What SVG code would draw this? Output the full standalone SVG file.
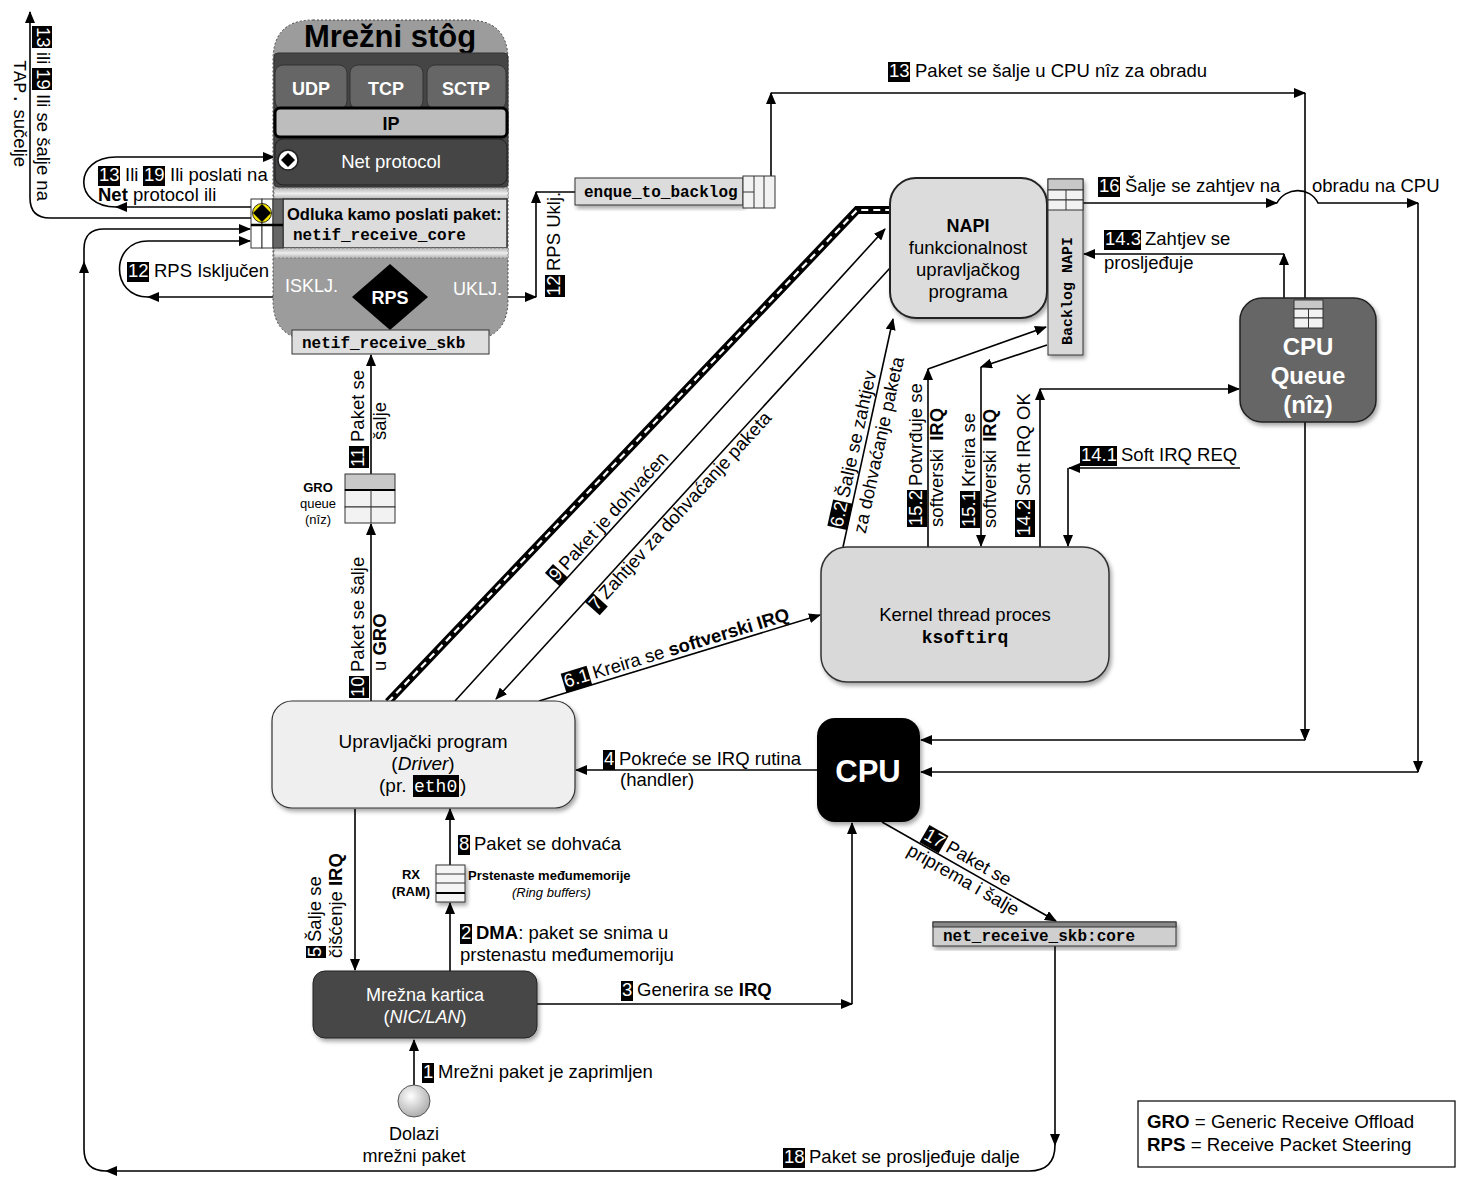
<svg xmlns="http://www.w3.org/2000/svg" width="1466" height="1189" viewBox="0 0 1466 1189">
<defs>
<marker id="ah" markerUnits="userSpaceOnUse" markerWidth="12" markerHeight="10" refX="11" refY="5" orient="auto"><path d="M0,0 L12,5 L0,10 z" fill="#000"/></marker>
<filter id="sh" x="-10%" y="-10%" width="130%" height="130%"><feDropShadow dx="2" dy="3" stdDeviation="2" flood-color="#000" flood-opacity="0.35"/></filter>
<linearGradient id="stripe" x1="0" y1="0" x2="0" y2="1"><stop offset="0" stop-color="#b5b5b5"/><stop offset="0.5" stop-color="#eeeeee"/><stop offset="1" stop-color="#b5b5b5"/></linearGradient>
<radialGradient id="ball" cx="0.4" cy="0.35" r="0.7"><stop offset="0" stop-color="#ffffff"/><stop offset="1" stop-color="#a8a8a8"/></radialGradient>
</defs>
<style>
svg{font-family:"Liberation Sans",Arial,sans-serif;font-size:18.5px}
text{fill:#000}
.m{font-family:"Liberation Mono","Courier New",monospace;font-weight:bold}
.w{fill:#fff}
.b{font-weight:bold}
.c{text-anchor:middle}
.bd{fill:#000}
.ln{fill:none;stroke:#000;stroke-width:1.6}
.a{marker-end:url(#ah)}
.q{fill:#f2f2f2;stroke:#333;stroke-width:1}
.qg{fill:#c8c8c8;stroke:#333;stroke-width:1}
</style>

<!-- connectors -->
<g id="connectors">
<path class="ln a" d="M414,1085 V1040"/>
<path class="ln a" d="M450,971 V903"/>
<path class="ln a" d="M450,865 V809"/>
<path class="ln a" d="M355,809 V970"/>
<path class="ln a" d="M537,1004 H852"/>
<path class="ln a" d="M852,1004 V823"/>
<path class="ln a" d="M817,770 H576"/>
<path class="ln a" d="M371,701 V524"/>
<path class="ln a" d="M371,474 V355"/>
<path d="M388,702 L857,210 L890,210" fill="none" stroke="#000" stroke-width="8"/>
<path d="M388,702 L857,210 L890,210" fill="none" stroke="#fff" stroke-width="2.2" stroke-dasharray="7 5"/>
<path class="ln a" d="M455,701 L885,229"/>
<path class="ln a" d="M890,268 L496,699"/>
<path class="ln a" d="M539,701 L820,615"/>
<path class="ln a" d="M843,547 L893,319"/>
<path class="ln a" d="M928,547 V369"/>
<path class="ln a" d="M928,369 L1046,327"/>
<path class="ln a" d="M1047,345 L981,367"/>
<path class="ln a" d="M981,367 V546"/>
<path class="ln a" d="M1040,547 V389"/>
<path class="ln a" d="M1040,389 H1239"/>
<path class="ln a" d="M1240,468 H1069"/>
<path class="ln a" d="M1068,468 V546"/>
<path class="ln a" d="M1284,298 V254"/>
<path class="ln a" d="M1284,254 H1084"/>
<path class="ln a" d="M1083,203 H1277"/>
<path class="ln a" d="M1277,203 C1285,187 1310,186 1318,203 H1418"/>
<path class="ln a" d="M1418,203 V772"/>
<path class="ln a" d="M1418,772 H921"/>
<path class="ln a" d="M771,176 V93"/>
<path class="ln a" d="M771,93 H1305"/>
<path class="ln a" d="M1305,93 V740"/>
<path class="ln a" d="M1305,740 H921"/>
<path class="ln a" d="M882,822 L1056,921"/>
<path class="ln a" d="M1055,946 V1145"/>
<path class="ln a" d="M1055,1145 Q1055,1171 1029,1171 H106"/>
<path class="ln a" d="M106,1171 Q84,1171 84,1149 V262"/>
<path class="ln a" d="M84,262 V249 Q84,229 104,229 H250"/>
<path class="ln a" d="M428,297 H536"/>
<path class="ln a" d="M536,297 V192"/>
<path class="ln" d="M536,192 H575"/>
<path class="ln a" d="M352,297 H148"/>
<path class="ln a" d="M148,297 C110,297 110,241 148,241 H250"/>
<path class="ln a" d="M251,207 H116"/>
<path class="ln a" d="M116,207 C73,207 73,157 116,157 H274"/>
<path class="ln a" d="M251,218 H50 Q30,218 30,198 V12"/>

<!-- labels -->
<g transform="translate(37,26) rotate(90)">
<rect class="bd" x="0" y="-15" width="22" height="20"/><text class="w" x="1" y="0">13</text>
<text x="26" y="0">ili</text>
<rect class="bd" x="42" y="-15" width="22" height="20"/><text class="w" x="43" y="0">19</text>
<text x="68" y="0">Ili se šalje na</text>
<text x="34" y="23"><tspan font-family="'Liberation Mono','Courier New',monospace">TAP.</tspan> sučelje</text>
</g>

<rect class="bd" x="98" y="166" width="22" height="20"/><text class="w" x="99" y="181">13</text>
<text x="125" y="181">Ili</text>
<rect class="bd" x="143" y="166" width="22" height="20"/><text class="w" x="144" y="181">19</text>
<text x="170" y="181">Ili poslati na</text>
<text x="98" y="201"><tspan class="b">Net</tspan> protocol ili</text>

<rect class="bd" x="127" y="262" width="22" height="20"/><text class="w" x="128" y="277">12</text>
<text x="154" y="277">RPS Isključen</text>

<g transform="translate(560,297) rotate(-90)">
<rect class="bd" x="0" y="-15" width="22" height="20"/><text class="w" x="1" y="0">12</text>
<text x="26" y="0">RPS Uklj.</text>
</g>

<rect class="bd" x="888" y="62" width="22" height="20"/><text class="w" x="889" y="77">13</text>
<text x="915" y="77">Paket se šalje u CPU nîz za obradu</text>

<rect class="bd" x="1098" y="177" width="22" height="20"/><text class="w" x="1099" y="192">16</text>
<text x="1125" y="192">Šalje se zahtjev na</text>
<text x="1312" y="192">obradu na CPU</text>

<rect class="bd" x="1104" y="230" width="37" height="20"/><text class="w" x="1105" y="245">14.3</text>
<text x="1145" y="245">Zahtjev se</text>
<text x="1104" y="269">prosljeđuje</text>

<rect class="bd" x="1080" y="446" width="37" height="20"/><text class="w" x="1081" y="461">14.1</text>
<text x="1121" y="461">Soft IRQ REQ</text>

<g transform="translate(922,527) rotate(-90)">
<rect class="bd" x="0" y="-15" width="37" height="20"/><text class="w" x="1" y="0">15.2</text>
<text x="41" y="0">Potvrđuje se</text>
<text x="0" y="21">softverski<tspan dx="8" class="b">IRQ</tspan></text>
</g>
<g transform="translate(975,528) rotate(-90)">
<rect class="bd" x="0" y="-15" width="37" height="20"/><text class="w" x="1" y="0">15.1</text>
<text x="41" y="0">Kreira se</text>
<text x="0" y="21">softverski<tspan dx="8" class="b">IRQ</tspan></text>
</g>
<g transform="translate(1030,537) rotate(-90)">
<rect class="bd" x="0" y="-15" width="37" height="20"/><text class="w" x="1" y="0">14.2</text>
<text x="41" y="0">Soft IRQ OK</text>
</g>

<g transform="translate(842,529) rotate(-77.6)">
<rect class="bd" x="0" y="-15" width="27" height="20"/><text class="w" x="1" y="0">6.2</text>
<text x="31" y="0">Šalje se zahtjev</text>
<text x="0" y="24">za dohvaćanje paketa</text>
</g>

<g transform="translate(556,583) rotate(-47.6)">
<rect class="bd" x="0" y="-15" width="12" height="20"/><text class="w" x="1" y="0">9</text>
<text x="16" y="0">Paket je dohvaćen</text>
</g>
<g transform="translate(596,612) rotate(-47.6)">
<rect class="bd" x="0" y="-15" width="12" height="20"/><text class="w" x="1" y="0">7</text>
<text x="16" y="0">Zahtjev za dohvaćanje paketa</text>
</g>
<g transform="translate(565,688) rotate(-16.8)">
<rect class="bd" x="0" y="-15" width="27" height="20"/><text class="w" x="1" y="0">6.1</text>
<text x="31" y="0">Kreira se <tspan class="b">softverski IRQ</tspan></text>
</g>

<g transform="translate(364,698) rotate(-90)">
<rect class="bd" x="0" y="-15" width="22" height="20"/><text class="w" x="1" y="0">10</text>
<text x="26" y="0">Paket se šalje</text>
<text x="27" y="22">u <tspan class="b">GRO</tspan></text>
</g>
<g transform="translate(364,468) rotate(-90)">
<rect class="bd" x="0" y="-15" width="22" height="20"/><text class="w" x="1" y="0">11</text>
<text x="26" y="0">Paket se</text>
<text x="28" y="22">šalje</text>
</g>
<g transform="translate(321,958) rotate(-90)">
<rect class="bd" x="0" y="-15" width="12" height="20"/><text class="w" x="1" y="0">5</text>
<text x="16" y="0">Šalje se</text>
<text x="0" y="21">čišćenje <tspan class="b">IRQ</tspan></text>
</g>

<rect class="bd" x="603" y="750" width="12" height="20"/><text class="w" x="604" y="765">4</text>
<text x="619" y="765">Pokreće se IRQ rutina</text>
<text x="620" y="786">(handler)</text>

<rect class="bd" x="458" y="835" width="12" height="20"/><text class="w" x="459" y="850">8</text>
<text x="474" y="850">Paket se dohvaća</text>

<rect class="bd" x="460" y="924" width="12" height="20"/><text class="w" x="461" y="939">2</text>
<text x="476" y="939"><tspan class="b">DMA</tspan>: paket se snima u</text>
<text x="460" y="961">prstenastu međumemoriju</text>

<rect class="bd" x="621" y="981" width="12" height="20"/><text class="w" x="622" y="996">3</text>
<text x="637" y="996">Generira se <tspan class="b">IRQ</tspan></text>

<rect class="bd" x="422" y="1063" width="12" height="20"/><text class="w" x="423" y="1078">1</text>
<text x="438" y="1078">Mrežni paket je zaprimljen</text>

<g transform="translate(922,838) rotate(29.8)">
<rect class="bd" x="0" y="-15" width="22" height="20"/><text class="w" x="1" y="0">17</text>
<text x="26" y="0">Paket se</text>
<text x="-6" y="22">priprema i šalje</text>
</g>

<rect class="bd" x="783" y="1148" width="22" height="20"/><text class="w" x="784" y="1163">18</text>
<text x="809" y="1163">Paket se prosljeđuje dalje</text>
</g>

<!-- network stack -->
<g id="stack">
<path d="M313,20 H468 Q508,20 508,60 V300 Q508,340 468,340 H313 Q273,340 273,300 V60 Q273,20 313,20 Z" fill="#9c9c9c" stroke="#444" stroke-width="1" stroke-dasharray="2 2"/>
<text class="b c" x="390" y="47" style="font-size:31px">Mrežni stôg</text>
<rect x="274" y="53" width="234" height="134" rx="4" fill="#454545" stroke="#333"/>
<rect x="275" y="65" width="72" height="44" rx="8" fill="#666" stroke="#333"/>
<rect x="350" y="65" width="73" height="44" rx="8" fill="#666" stroke="#333"/>
<rect x="427" y="65" width="79" height="44" rx="8" fill="#666" stroke="#333"/>
<text class="b c w" x="311" y="95" style="font-size:18px">UDP</text>
<text class="b c w" x="386" y="95" style="font-size:18px">TCP</text>
<text class="b c w" x="466" y="95" style="font-size:18px">SCTP</text>
<rect x="275" y="108" width="232" height="29" rx="5" fill="#bdbdbd" stroke="#000" stroke-width="3"/>
<text class="b c" x="391" y="130" style="font-size:18px">IP</text>
<rect x="275" y="139" width="232" height="46" rx="8" fill="#454545" stroke="#222"/>
<text class="c w" x="391" y="168" style="font-size:18.5px">Net protocol</text>
<circle cx="288" cy="160" r="10" fill="#fff" stroke="#222" stroke-width="1.5"/>
<path d="M288,153 L295,160 L288,167 L281,160 Z" fill="#000"/>
<rect x="274" y="188" width="234" height="11" fill="url(#stripe)" stroke="#777" stroke-width="0.8" stroke-dasharray="2 2"/>
<rect x="283" y="199" width="224" height="49" fill="#dcdcdc" stroke="#333" stroke-width="1.5"/>
<text class="b" x="287" y="220" style="font-size:16.5px">Odluka kamo poslati paket:</text>
<text class="m" x="293" y="240" style="font-size:16px">netif_receive_core</text>
<rect x="274" y="248" width="234" height="10" fill="url(#stripe)" stroke="#777" stroke-width="0.8" stroke-dasharray="2 2"/>
<polygon points="390,264 428,297 390,330 352,297" fill="#000"/>
<text class="b c w" x="390" y="304" style="font-size:18px">RPS</text>
<text class="w" x="285" y="292" style="font-size:18px">ISKLJ.</text>
<text class="w" x="453" y="295" style="font-size:18px">UKLJ.</text>
<rect x="292" y="330" width="197" height="24" fill="#dedede" stroke="#333"/>
<text class="m" x="302" y="348" style="font-size:16px">netif_receive_skb</text>
</g>

<g id="decision-icon">
<rect x="251" y="199" width="11" height="49" fill="#fff" stroke="#333"/>
<rect x="262" y="199" width="11" height="49" fill="#fff" stroke="#333"/>
<rect x="273" y="199" width="10" height="49" fill="#666" stroke="#333"/>
<path d="M251,225 H283" stroke="#000" stroke-width="2.5"/>
<circle cx="262" cy="213" r="9.5" fill="#f2e400" stroke="#000" stroke-width="0.8"/>
<path d="M262,204 L271,213 L262,222 L253,213 Z" fill="#000"/>
</g>

<g id="enque">
<rect x="575" y="178" width="168" height="27" fill="#dcdcdc" stroke="#333" filter="url(#sh)"/>
<text class="m" x="584" y="197" style="font-size:16px">enque_to_backlog</text>
<rect class="q" x="743" y="176" width="32" height="32"/>
<path d="M754,176 V208 M764,176 V208 M743,192 H754" stroke="#333" stroke-width="1"/>
</g>

<g id="napi">
<rect x="890" y="178" width="157" height="140" rx="26" fill="#dcdcdc" stroke="#222" stroke-width="2" filter="url(#sh)"/>
<text class="b c" x="968" y="232" style="font-size:18px">NAPI</text>
<text class="c" x="968" y="254">funkcionalnost</text>
<text class="c" x="968" y="276">upravljačkog</text>
<text class="c" x="968" y="298">programa</text>
</g>

<g id="backlog">
<rect x="1048" y="179" width="35" height="176" fill="#d9d9d9" stroke="#333" filter="url(#sh)"/>
<rect class="qg" x="1048" y="179" width="35" height="11"/>
<rect class="q" x="1048" y="190" width="35" height="10"/>
<rect class="q" x="1048" y="200" width="35" height="10"/>
<path d="M1066,190 V210" stroke="#333"/>
<text class="m" transform="translate(1072,345) rotate(-90)" style="font-size:15px">Backlog NAPI</text>
</g>

<g id="cpu-queue">
<rect x="1240" y="298" width="136" height="124" rx="22" fill="#666" stroke="#222" stroke-width="1.5" filter="url(#sh)"/>
<rect class="qg" x="1294" y="300" width="29" height="9"/>
<rect class="q" x="1294" y="309" width="29" height="9"/>
<rect class="q" x="1294" y="318" width="29" height="10"/>
<path d="M1308.5,309 V328" stroke="#333"/>
<text class="b c w" x="1308" y="355" style="font-size:24px">CPU</text>
<text class="b c w" x="1308" y="384" style="font-size:24px">Queue</text>
<text class="b c w" x="1308" y="413" style="font-size:24px">(nîz)</text>
</g>

<g id="ksoftirq">
<rect x="821" y="547" width="288" height="135" rx="26" fill="#d9d9d9" stroke="#333" stroke-width="1.5" filter="url(#sh)"/>
<text class="c" x="965" y="621">Kernel thread proces</text>
<text class="m c" x="965" y="643" style="font-size:18px">ksoftirq</text>
</g>

<g id="gro">
<rect class="qg" x="345" y="474" width="50" height="16"/>
<rect class="q" x="345" y="490" width="50" height="17"/>
<rect class="q" x="345" y="507" width="50" height="16"/>
<path d="M345,490 H395" stroke="#000" stroke-width="2"/>
<path d="M371,490 V523" stroke="#333"/>
<text class="b c" x="318" y="492" style="font-size:13px">GRO</text>
<text class="c" x="318" y="508" style="font-size:13px">queue</text>
<text class="c" x="318" y="524" style="font-size:13px">(nîz)</text>
</g>

<g id="driver">
<rect x="272" y="701" width="303" height="107" rx="20" fill="#efefef" stroke="#333" stroke-width="1.2" filter="url(#sh)"/>
<text class="c" x="423" y="748" style="font-size:19px">Upravljački program</text>
<text class="c" x="423" y="770" style="font-size:19px">(<tspan font-style="italic">Driver</tspan>)</text>
<text x="379" y="792" style="font-size:19px">(pr. </text>
<rect x="413" y="775" width="46" height="22" fill="#000"/>
<text x="414" y="792" class="w" style="font-size:18px;font-family:'Liberation Mono','Courier New',monospace">eth0</text>
<text x="460" y="792" style="font-size:19px">)</text>
</g>

<g id="cpu">
<rect x="817" y="718" width="103" height="104" rx="18" fill="#000" filter="url(#sh)"/>
<text class="b c w" x="868" y="782" style="font-size:31px">CPU</text>
</g>

<g id="ring">
<rect x="436" y="865" width="29" height="37" fill="#f4f4f4" stroke="#333" filter="url(#sh)"/>
<path d="M436,874 H465 M436,883 H465" stroke="#333"/>
<path d="M436,893 H465" stroke="#000" stroke-width="2"/>
<text class="b c" x="411" y="879" style="font-size:13px">RX</text>
<text class="b c" x="411" y="896" style="font-size:13px">(RAM)</text>
<text class="b" x="468" y="880" style="font-size:13px">Prstenaste međumemorije</text>
<text x="512" y="897" style="font-size:13px;font-style:italic">(Ring buffers)</text>
</g>

<g id="nic">
<rect x="313" y="971" width="224" height="67" rx="12" fill="#474747" stroke="#222" filter="url(#sh)"/>
<text class="c w" x="425" y="1001" style="font-size:18px">Mrežna kartica</text>
<text class="c w" x="425" y="1023" style="font-size:18px">(<tspan font-style="italic">NIC/LAN</tspan>)</text>
</g>

<g id="packet">
<circle cx="414" cy="1101" r="16" fill="url(#ball)" stroke="#555"/>
<text class="c" x="414" y="1140" style="font-size:18px">Dolazi</text>
<text class="c" x="414" y="1162" style="font-size:18px">mrežni paket</text>
</g>

<g id="net-receive-core">
<rect x="933" y="922" width="243" height="24" fill="#cfcfcf" stroke="#333" filter="url(#sh)"/>
<rect x="933" y="922" width="243" height="5" fill="#888" stroke="#333"/>
<text class="m" x="943" y="941" style="font-size:16px">net_receive_skb:core</text>
</g>

<g id="legend">
<rect x="1138" y="1101" width="317" height="66" fill="#fff" stroke="#000" stroke-width="1.2"/>
<text x="1147" y="1128" style="font-size:18.7px"><tspan class="b">GRO</tspan> = Generic Receive Offload</text>
<text x="1147" y="1151" style="font-size:18.7px"><tspan class="b">RPS</tspan> = Receive Packet Steering</text>
</g>
</svg>
